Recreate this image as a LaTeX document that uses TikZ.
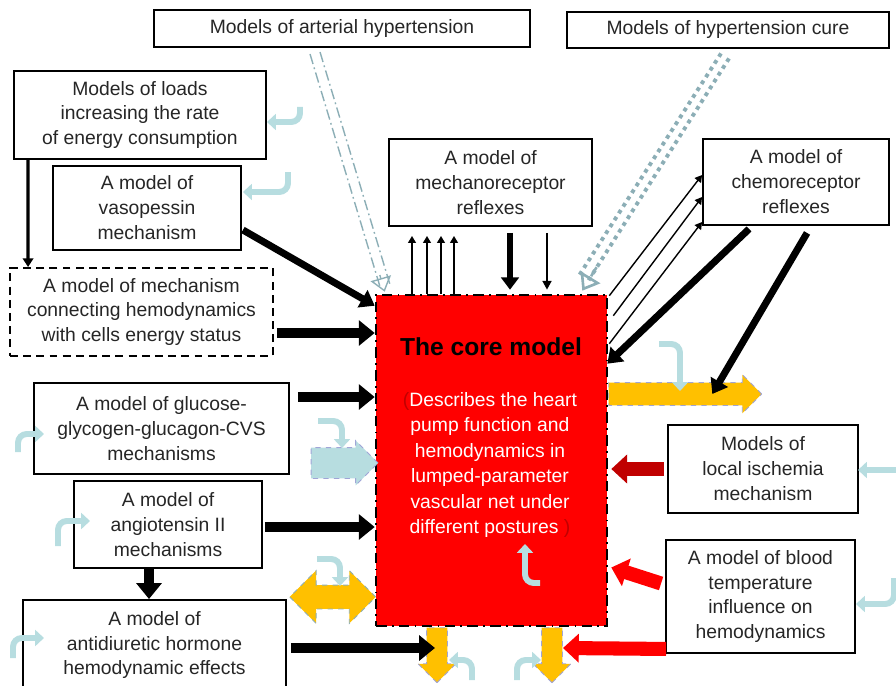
\documentclass[tikz,border=0pt]{standalone}
\usepackage{fontspec}
\setmainfont{Liberation Sans}
\usepackage{xcolor}
\usepackage{tikz}
\usetikzlibrary{arrows.meta, positioning, shapes.arrows, calc}

\definecolor{lblue}{RGB}{183,221,224}
\definecolor{grayblue}{RGB}{140,174,182}
\definecolor{myyellow}{RGB}{255,192,0}
\definecolor{darkred}{RGB}{192,0,0}
\definecolor{lavender}{RGB}{160,165,215}

\begin{document}
\begin{tikzpicture}[x=0.02cm, y=-0.02cm, >=Stealth,
  font=\fontsize{11}{14.2}\selectfont,
  mbox/.style={draw, line width=1.1pt, fill=white, align=center, inner sep=0pt, text=black!85},
  fat/.style={line width=5.5pt, -{Triangle[length=9pt,width=14pt]}},
  mid/.style={line width=4pt, -{Triangle[length=8pt,width=11pt]}},
  slim/.style={line width=0.8pt, -{Triangle[length=4pt,width=4.5pt]}},
  redfat/.style={line width=8pt, -{Triangle[length=9pt,width=16pt]}},
  bentarrow/.style={draw=lblue, line width=3.4pt, rounded corners=5pt, -{Triangle[length=5pt,width=9pt]}},
  yarrow/.style={single arrow, fill=myyellow, draw=lavender, dashed, line width=0.5pt,
    inner xsep=0pt, single arrow head indent=0pt},
  hypline/.style={draw=grayblue, line width=0.8pt, dash pattern=on 6pt off 2pt on 1pt off 2pt},
  cureline/.style={draw=grayblue, line width=2.2pt, dash pattern=on 2.2pt off 2.4pt}]

  \useasboundingbox (0,0) rectangle (896,686);

  % Outer models
  \node (hyp) [mbox, minimum width=7.52cm, minimum height=0.74cm] at (342,28.5) {Models of arterial hypertension};
  \node (cure) [mbox, minimum width=6.44cm, minimum height=0.72cm] at (728,30) {Models of hypertension cure};
  \node (loads) [mbox, minimum width=5.04cm, minimum height=1.76cm] at (140,115) {Models of loads\\increasing the rate\\of energy consumption};
  \node (vaso) [mbox, minimum width=3.76cm, minimum height=1.68cm] at (147,208) {A model of\\vasopessin\\mechanism};
  \node (energy) [mbox, dash pattern=on 4.5pt off 3pt, minimum width=5.26cm, minimum height=1.76cm] at (141.5,312) {A model of mechanism\\connecting hemodynamics\\with cells energy status};
  \node (gluc) [mbox, minimum width=5.10cm, minimum height=1.82cm] at (161.5,428.5) {A model of glucose-\\glycogen-glucagon-CVS\\mechanisms};
  \node (angio) [mbox, minimum width=3.76cm, minimum height=1.74cm] at (168,524.5) {A model of\\angiotensin II\\mechanisms};
  \node (adh) [mbox, minimum width=5.26cm, minimum height=1.80cm] at (154.5,645) {A model of\\antidiuretic hormone\\hemodynamic effects};
  \node (mech) [mbox, minimum width=4.06cm, minimum height=1.74cm] at (490.5,182.5) {A model of\\mechanoreceptor\\reflexes};
  \node (chemo) [mbox, minimum width=3.72cm, minimum height=1.72cm] at (796,182) {A model of\\chemoreceptor\\reflexes};
  \node (isch) [mbox, minimum width=3.80cm, minimum height=1.76cm] at (763,469) {Models of\\local ischemia\\mechanism};
  \node (temp) [mbox, minimum width=3.78cm, minimum height=2.26cm] at (760.5,596.5) {A model of blood\\temperature\\influence on\\hemodynamics};

  % Core model
  \node (core) [draw, fill=red, line width=1.5pt, dash pattern=on 6pt off 3pt on 1pt off 3pt,
    minimum width=4.62cm, minimum height=6.62cm, inner sep=0pt] at (491.5,460.5) {};
  \node (ctitle) [font=\fontsize{14}{16}\selectfont\bfseries] at (491,347) {The core model};
  \node (cdesc) [text=white, align=center, font=\fontsize{11}{14.5}\selectfont] at (490,465)
    {{\color{darkred}(}Describes the heart\\pump function and\\hemodynamics in\\lumped-parameter\\vascular net under\\different postures {\color{darkred})}};

  % Yellow and light blue block arrows
  \node (yout) [yarrow, minimum height=3.06cm, inner ysep=0.22cm, single arrow head extend=0.16cm,
    anchor=tail] at (core.east |- 0,394) {};
  \node (ydownA) [yarrow, rotate=-90, minimum height=1.1cm, inner ysep=0.2cm, single arrow head extend=0.17cm,
    anchor=tail] at (core.south -| 437,0) {};
  \node (ydownB) [yarrow, rotate=-90, minimum height=1.1cm, inner ysep=0.2cm, single arrow head extend=0.17cm,
    anchor=tail] at (core.south -| 552,0) {};
  \node (ydbl) [double arrow, fill=myyellow, draw=grayblue, dashed, line width=0.5pt, inner xsep=0pt, inner ysep=0.23cm,
    minimum height=1.72cm, double arrow head extend=0.29cm, double arrow head indent=0pt] at ($(core.west |- 0,597)+(-42,0)$) {};
  \node (lbin) [single arrow, fill=lblue, draw=lavender, dashed, line width=0.5pt, inner xsep=0pt, inner ysep=0.3cm,
    minimum height=1.34cm, single arrow head extend=0.14cm, single arrow head indent=0pt,
    anchor=tip] at ($(core.west |- 0,463)+(4,0)$) {};

  % Left inputs
  \draw[line width=1.8pt, -{Triangle[length=5pt,width=6pt]}] ($(loads.south west)+(15,0)$) -- ($(energy.north west)+(19,0)$);
  \draw[mid] ($(vaso.east)+(1,22)$) -- ($(core.north west)+(0,12)$);
  \draw[fat] ($(energy.east)+(3,21)$) -- (core.west |- 0,333);
  \draw[fat] ($(gluc.east |- 0,397)+(8,0)$) -- (core.west |- 0,397);
  \draw[fat] ($(angio.east |- 0,527)+(2,0)$) -- (core.west |- 0,527);
  \draw[fat] (angio.south -| 149,0) -- (adh.north -| 149,0);
  \coordinate (adhend) at (435,648);
  \draw[fat] ($(adh.east |- 0,648)+(4,0)$) -- (adhend);

  % Mechanoreceptor links
  \foreach \x in {412,427,441,454}
    \draw[slim] (core.north -| \x,0) -- ($(mech.south -| \x,0)+(0,9)$);
  \draw[line width=3.5pt, -{Triangle[length=7pt,width=10pt]}] ($(mech.south -| 510,0)+(0,6)$) -- ($(core.north -| 510,0)+(0,-4)$);
  \draw[line width=1.2pt, -{Triangle[length=5pt,width=5pt]}] ($(mech.south -| 547,0)+(0,6)$) -- ($(core.north -| 547,0)+(0,-4)$);

  % Chemoreceptor links
  \draw[slim] ($(core.north east)+(1,2)$) -- (chemo.west |- 0,175);
  \draw[slim] ($(core.north east)+(5,22)$) -- (chemo.west |- 0,197);
  \draw[slim] ($(core.north east)+(1,50)$) -- (chemo.west |- 0,222);
  \draw[mid] ($(chemo.south west)+(47,3)$) -- ($(core.north east)+(-1,70)$);
  \draw[mid] ($(chemo.south west)+(105,7)$) -- ($(yout.tail)+(104,0)$);

  % Right inputs
  \draw[redfat, darkred] ($(isch.west)+(-3,0)$) -- ($(core.east |- isch.west)+(3,0)$);
  \draw[redfat, red] ($(temp.west)+(-4,-13)$) -- ($(core.east)+(3,107)$);
  \coordinate (tempend) at (563,648);
  \draw[redfat, red] ($(temp.south west)+(1,-5)$) -- (tempend);

  % Hypertension models
  \coordinate (hA) at ($(hyp.south)+(-27,5)$);
  \coordinate (hB) at ($(core.north west)+(10,-2)$);
  \draw[hypline] ($(hA)+(-5,1)$) -- ($(hB)+(-5,-6)$);
  \draw[hypline] ($(hA)+(5,-1)$) -- ($(hB)+(5,-8)$);
  \draw[grayblue, line width=0.8pt, -{Triangle[open,length=8pt,width=12pt]}] ($(hA)!0.93!(hB)$) -- (hB);
  \coordinate (cA) at ($(cure.south)+(-3,7)$);
  \coordinate (cB) at ($(core.north east)+(-26,-3)$);
  \draw[cureline] ($(cA)+(-4,-2.5)$) -- ($(cB)+(-4,-14)$);
  \draw[cureline] ($(cA)+(4,2.5)$) -- ($(cB)+(6,-10)$);
  \draw[grayblue, line width=1.5pt, dash pattern=on 2pt off 2pt, -{Triangle[open,length=9pt,width=13pt]}] ($(cA)!0.9!(cB)$) -- (cB);

  % Light blue bent arrows
  \draw[bentarrow] (300,107) -- (300,122) -- (267,122);
  \draw[bentarrow] (288,172) -- (288,192) -- (243,192);
  \draw[bentarrow] (18,452) -- (18,434) -- (44,434);
  \draw[bentarrow] (58,546) -- (58,521) -- (90,521);
  \draw[bentarrow] (13,658) -- (13,638) -- (44,638);
  \draw[bentarrow] (318,421) -- (342,421) -- (342,448);
  \draw[bentarrow] (317,559) -- (340,559) -- (340,586);
  \draw[bentarrow] (540,583) -- (525,583) -- (525,544);
  \draw[bentarrow] (472,680) -- (472,660) -- (449,660);
  \draw[bentarrow] (517,680) -- (517,660) -- (541,660);
  \draw[bentarrow] (659,344) -- (680,344) -- (680,391);
  \draw[bentarrow] (896,470) -- (858,470);
  \draw[bentarrow] (894,578) -- (894,604) -- (856,604);
\end{tikzpicture}
\end{document}
